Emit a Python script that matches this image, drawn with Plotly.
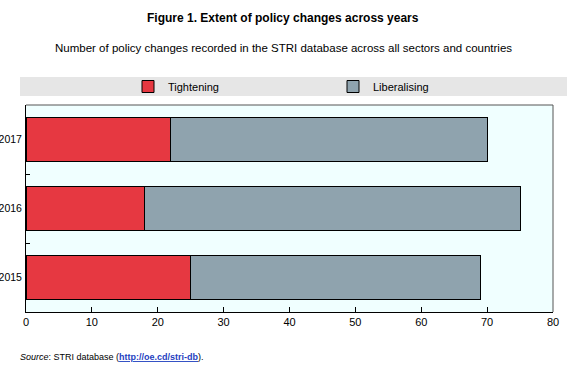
import plotly.graph_objects as go

years = ["2015", "2016", "2017"]
tightening = [25, 18, 22]
liberalising = [44, 57, 48]

W, H = 567, 370
L, R, T, B = 26, 14, 105, 58
pw = W - L - R
ph = H - T - B

def px(x):
    return (x - L) / pw

def py(y):
    return (H - B - y) / ph

fig = go.Figure()
fig.add_trace(go.Bar(y=years, x=tightening, name="Tightening", orientation="h",
                     marker=dict(color="#E63841", line=dict(color="#000000", width=1))))
fig.add_trace(go.Bar(y=years, x=liberalising, name="Liberalising", orientation="h",
                     marker=dict(color="#8FA3AE", line=dict(color="#000000", width=1))))

font = "Liberation Sans, Arial, sans-serif"
fig.update_layout(
    width=W, height=H,
    margin=dict(l=L, r=R, t=T, b=B, autoexpand=False),
    barmode="stack", bargap=0.36,
    paper_bgcolor="white", plot_bgcolor="#F0FFFF",
    font=dict(family=font, size=11, color="#000000"),
    legend=dict(orientation="h", x=px(128), y=py(86.5), xanchor="left", yanchor="middle",
                entrywidth=160, entrywidthmode="pixels", bgcolor="rgba(0,0,0,0)",
                font=dict(size=11), itemclick=False, traceorder="normal"),
    xaxis=dict(range=[0, 80], dtick=10, showgrid=False, zeroline=False, automargin=False,
               color="#000000", ticks="inside", ticklen=5, tickcolor="#000", showline=True,
               linecolor="#000", linewidth=1, mirror=False,
               tickfont=dict(size=11, color="#000000")),
    yaxis=dict(range=[-0.5, 2.5], showgrid=False, ticks="inside", ticklen=4, automargin=False,
               color="#000000", tickson="boundaries", tickcolor="#000", showline=True,
               linecolor="#000", linewidth=1, tickfont=dict(size=10.5, color="#000000"),
               ticklabelstandoff=1),
    shapes=[
        dict(type="rect", xref="paper", yref="paper", x0=px(20), x1=px(567),
             y0=py(96), y1=py(77), fillcolor="#E6E6E6", line=dict(width=0), layer="below"),
        dict(type="line", xref="paper", yref="paper", x0=0, x1=1, y0=1, y1=1,
             line=dict(color="#555555", width=1)),
        dict(type="line", xref="paper", yref="paper", x0=1, x1=1, y0=0, y1=1,
             line=dict(color="#555555", width=1)),
    ],
    annotations=[
        dict(text="<b>Figure 1. Extent of policy changes across years</b>", xref="paper", yref="paper",
             x=px(283), y=py(18), showarrow=False, xanchor="center", yanchor="middle",
             font=dict(size=12)),
        dict(text="Number of policy changes recorded in the STRI database across all sectors and countries",
             xref="paper", yref="paper", x=px(283), y=py(48), showarrow=False,
             xanchor="center", yanchor="middle", font=dict(size=11.5)),
        dict(text="<i>Source</i>: STRI database (<span style='color:#1F3FBF'><b><u>http://oe.cd/stri-db</u></b></span>).",
             xref="paper", yref="paper", x=px(18), y=py(357), showarrow=False,
             xanchor="left", yanchor="middle", font=dict(size=9)),
    ],
)

fig.write_html("out.html", config={"displayModeBar": False, "staticPlot": True},
               post_script="document.body.style.margin='0';document.body.style.overflow='hidden';")
